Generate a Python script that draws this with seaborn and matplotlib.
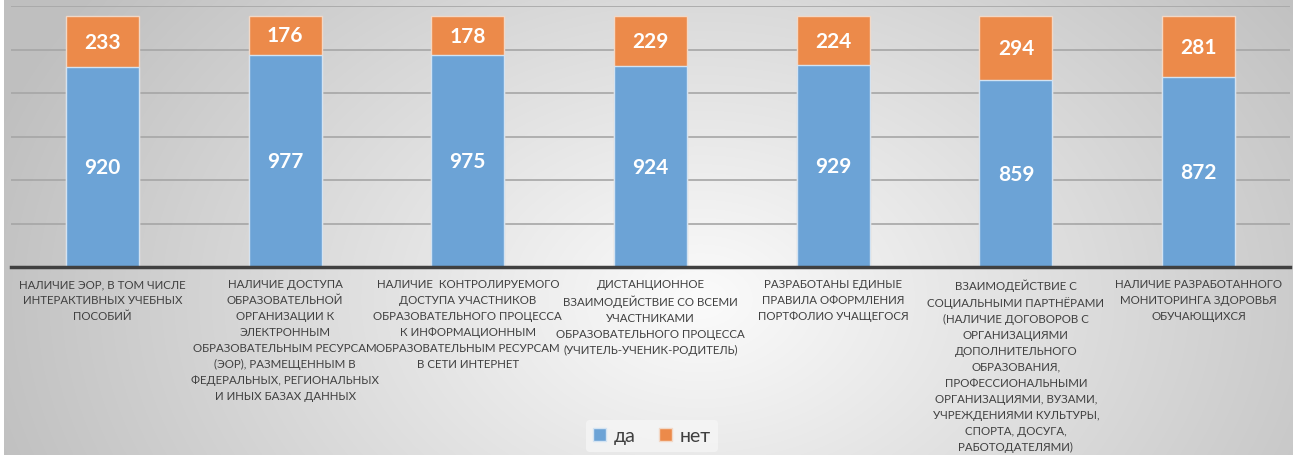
import numpy as np
import pandas as pd
import matplotlib
matplotlib.use("Agg")
import matplotlib.pyplot as plt
import seaborn as sns

categories = [
    "НАЛИЧИЕ ЭОР, В ТОМ ЧИСЛЕ\nИНТЕРАКТИВНЫХ УЧЕБНЫХ\nПОСОБИЙ",
    "НАЛИЧИЕ ДОСТУПА\nОБРАЗОВАТЕЛЬНОЙ\nОРГАНИЗАЦИИ К\nЭЛЕКТРОННЫМ\nОБРАЗОВАТЕЛЬНЫМ РЕСУРСАМ\n(ЭОР), РАЗМЕЩЕННЫМ В\nФЕДЕРАЛЬНЫХ, РЕГИОНАЛЬНЫХ\nИ ИНЫХ БАЗАХ ДАННЫХ",
    "НАЛИЧИЕ  КОНТРОЛИРУЕМОГО\nДОСТУПА УЧАСТНИКОВ\nОБРАЗОВАТЕЛЬНОГО ПРОЦЕССА\nК ИНФОРМАЦИОННЫМ\nОБРАЗОВАТЕЛЬНЫМ РЕСУРСАМ\nВ СЕТИ ИНТЕРНЕТ",
    "ДИСТАНЦИОННОЕ\nВЗАИМОДЕЙСТВИЕ СО ВСЕМИ\nУЧАСТНИКАМИ\nОБРАЗОВАТЕЛЬНОГО ПРОЦЕССА\n(УЧИТЕЛЬ-УЧЕНИК-РОДИТЕЛЬ)",
    "РАЗРАБОТАНЫ ЕДИНЫЕ\nПРАВИЛА ОФОРМЛЕНИЯ\nПОРТФОЛИО УЧАЩЕГОСЯ",
    "ВЗАИМОДЕЙСТВИЕ С\nСОЦИАЛЬНЫМИ ПАРТНЁРАМИ\n(НАЛИЧИЕ ДОГОВОРОВ С\nОРГАНИЗАЦИЯМИ\nДОПОЛНИТЕЛЬНОГО\nОБРАЗОВАНИЯ,\nПРОФЕССИОНАЛЬНЫМИ\nОРГАНИЗАЦИЯМИ, ВУЗАМИ,\nУЧРЕЖДЕНИЯМИ КУЛЬТУРЫ,\nСПОРТА, ДОСУГА,\nРАБОТОДАТЕЛЯМИ)",
    "НАЛИЧИЕ РАЗРАБОТАННОГО\nМОНИТОРИНГА ЗДОРОВЬЯ\nОБУЧАЮЩИХСЯ",
]
yes_values = [920, 977, 975, 924, 929, 859, 872]
no_values = [233, 176, 178, 229, 224, 294, 281]
series_names = ["да", "нет"]

BLUE = "#6CA3D6"
ORANGE = "#EC8A4A"

sns.set_theme(style="white")
plt.rcParams["font.family"] = ["Lato", "DejaVu Sans"]

df = pd.DataFrame({
    "cat": categories,
    "yes": yes_values,
    "no": no_values,
})
df["total"] = df["yes"] + df["no"]

fig = plt.figure(figsize=(12.93, 4.56), dpi=100)

# background gradient
bg = fig.add_axes([0, 0, 1, 1], zorder=-10)
H, W = 456, 1293
yy, xx = np.mgrid[0:H, 0:W]
cx, cy = 700, 300
d = np.sqrt(((xx - cx) / 700.0) ** 2 + ((yy - cy) / 500.0) ** 2)
val = np.clip(0.985 - 0.22 * d, 0.75, 1.0)
img = np.dstack([val, val, val])
img[:, :4, :] = 1.0
bg.imshow(img, aspect="auto", extent=[0, 1, 0, 1], origin="upper")
bg.axis("off")

ax = fig.add_axes([11 / W, 1 - 268 / H, (1290 - 11) / W, (268 - 7) / H])
ax.patch.set_alpha(0)

sns.barplot(data=df, x="cat", y="total", color=ORANGE, width=0.4, ax=ax,
            edgecolor="#f2d8c6", linewidth=1.0, saturation=1, label=series_names[1], zorder=3)
sns.barplot(data=df, x="cat", y="yes", color=BLUE, width=0.4, ax=ax,
            edgecolor="#d3e3f2", linewidth=1.0, saturation=1, label=series_names[0], zorder=4)

handles, labels = ax.get_legend_handles_labels()
if ax.get_legend() is not None:
    ax.get_legend().remove()

ax.set_ylim(0, 1200)
ax.set_xlim(-0.5, len(categories) - 0.5)
ax.set_yticks(np.arange(200, 1201, 200))
ax.yaxis.grid(True, color="#a6a6a6", linewidth=1.2)
ax.set_axisbelow(True)
ax.tick_params(axis="y", left=False, labelleft=False)
ax.tick_params(axis="x", bottom=False, pad=2)
ax.set_xlabel("")
ax.set_ylabel("")
for s in ["top", "right", "left"]:
    ax.spines[s].set_visible(False)
ax.spines["bottom"].set_color("#404040")
ax.spines["bottom"].set_linewidth(2.5)
ax.spines["bottom"].set_zorder(6)

ax.set_xticks(range(len(categories)))
ax.set_xticklabels(categories, fontsize=8.3, color="#404040", linespacing=1.55,
                   va="top", ha="center")

for i, (y_, n_) in enumerate(zip(yes_values, no_values)):
    ax.text(i, y_ / 2, str(y_), ha="center", va="center", color="white",
            fontsize=15, fontweight="bold", zorder=7)
    ax.text(i, y_ + n_ / 2, str(n_), ha="center", va="center", color="white",
            fontsize=15, fontweight="bold", zorder=7)

order = [labels.index(series_names[0]), labels.index(series_names[1])]
leg = fig.legend([handles[k] for k in order], [labels[k] for k in order],
                 loc="center", bbox_to_anchor=(652 / W, 1 - 437 / H), ncol=2,
                 frameon=True, fontsize=14, handlelength=0.65, handleheight=0.65,
                 handletextpad=0.4, columnspacing=1.2, borderpad=0.4)
leg.get_frame().set_facecolor("#f4f4f4")
leg.get_frame().set_edgecolor("none")
leg.get_frame().set_alpha(0.9)
for t in leg.get_texts():
    t.set_color("#404040")

fig.savefig("out.png", dpi=100)
